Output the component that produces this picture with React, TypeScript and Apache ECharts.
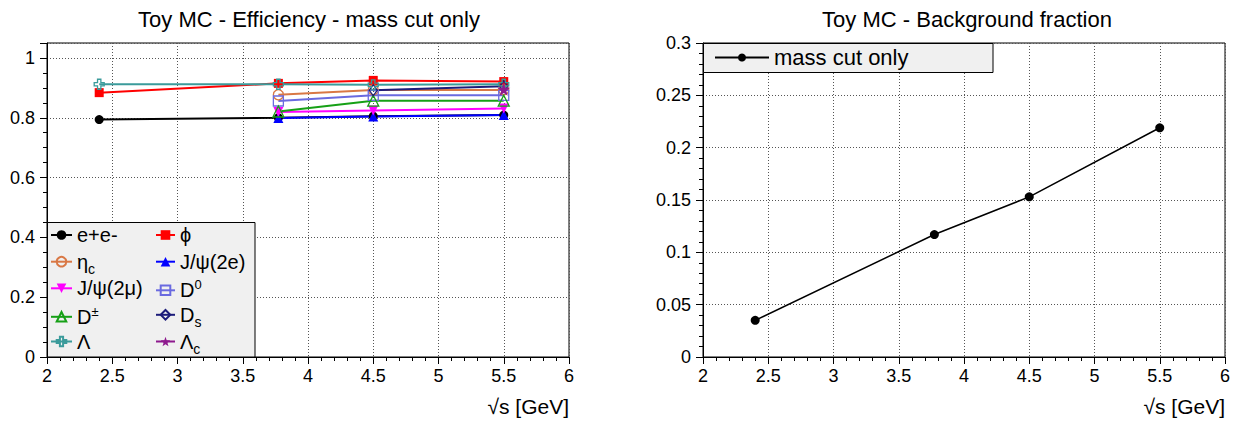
import React, { useEffect, useRef } from "react";
import * as echarts from "echarts";

// ---- data ----
const energies = [2.4, 3.773, 4.5, 5.5];
const xTicks = [2, 2.5, 3, 3.5, 4, 4.5, 5, 5.5, 6];
const effEE = [0.794, 0.8, 0.805, 0.809];
const effPhi = [0.884, 0.915, 0.925, 0.921];
const effEtac = [null, 0.877, 0.893, 0.893];
const effJpsiEE = [null, 0.799, 0.804, 0.809];
const effJpsiMuMu = [null, 0.819, 0.824, 0.831];
const effD0 = [null, 0.856, 0.875, 0.875];
const effDpm = [null, 0.821, 0.857, 0.857];
const effDs = [null, null, 0.892, 0.905];
const effLambda = [0.912, 0.912, 0.91, 0.912];
const effLambdac = [null, null, null, 0.895];
const bgFraction = [0.035, 0.117, 0.153, 0.219];

const titleLeft = "Toy MC - Efficiency - mass cut only";
const titleRight = "Toy MC - Background fraction";
const xTitle = "√s [GeV]";
const bgLegend = "mass cut only";

const FONT = "'Liberation Sans', Arial, Helvetica, sans-serif";
const TICK_FS = 18;

const CROSS =
  "path://M-1,-3 L1,-3 L1,-1 L3,-1 L3,1 L1,1 L1,3 L-1,3 L-1,1 L-3,1 L-3,-1 L-1,-1 Z";
const STAR =
  "path://M0,-10 L2.35,-3.24 L9.51,-3.09 L3.8,1.24 L5.88,8.09 L0,4 L-5.88,8.09 L-3.8,1.24 L-9.51,-3.09 L-2.35,-3.24 Z";

type Spec = {
  name: string;
  label: string;
  values: (number | null)[];
  color: string;
  symbol: string;
  size: number | number[];
  open?: boolean;
  rotate?: number;
};

const effSeries: Spec[] = [
  { name: "e+e-", label: "e+e-", values: effEE, color: "#000000", symbol: "circle", size: 9 },
  { name: "ϕ", label: "ϕ", values: effPhi, color: "#ff0000", symbol: "rect", size: 9 },
  { name: "η_c", label: "η{sub|c}", values: effEtac, color: "#d97845", symbol: "circle", size: 10, open: true },
  { name: "J/ψ(2e)", label: "J/ψ(2e)", values: effJpsiEE, color: "#0000ff", symbol: "triangle", size: 10 },
  { name: "J/ψ(2μ)", label: "J/ψ(2μ)", values: effJpsiMuMu, color: "#ff00ff", symbol: "triangle", size: 10, rotate: 180 },
  { name: "D0", label: "D{sup|0}", values: effD0, color: "#6a6ae0", symbol: "rect", size: 10, open: true },
  { name: "D±", label: "D{sup|±}", values: effDpm, color: "#16a016", symbol: "triangle", size: 11, open: true },
  { name: "Ds", label: "D{sub|s}", values: effDs, color: "#1c1c7a", symbol: "diamond", size: [8, 11], open: true },
  { name: "Λ", label: "Λ", values: effLambda, color: "#3b9b9b", symbol: CROSS, size: 10, open: true },
  { name: "Λc", label: "Λ{sub|c}", values: effLambdac, color: "#8e1a8e", symbol: STAR, size: 13 },
];

const labelMap: Record<string, string> = {};
effSeries.forEach((s) => (labelMap[s.name] = s.label));

function pairs(vals: (number | null)[]) {
  const out: number[][] = [];
  vals.forEach((v, i) => {
    if (v !== null) out.push([energies[i], v]);
  });
  return out;
}

const gridLine = { show: true, lineStyle: { color: "#555", type: [1, 2], width: 1 } };

function xAxis(gridIndex: number) {
  return {
    type: "value",
    gridIndex,
    min: xTicks[0],
    max: xTicks[xTicks.length - 1],
    interval: xTicks[1] - xTicks[0],
    axisLine: { show: true, onZero: false, lineStyle: { color: "#000" } },
    axisTick: { show: true, length: 7, lineStyle: { color: "#000" } },
    minorTick: { show: true, splitNumber: 5, length: 4, lineStyle: { color: "#000" } },
    splitLine: gridLine,
    axisLabel: { color: "#000", fontSize: TICK_FS, margin: 10, fontFamily: FONT },
    name: xTitle,
    nameLocation: "end",
    nameGap: 0,
    nameTextStyle: {
      color: "#000",
      fontSize: 21,
      fontFamily: FONT,
      align: "right",
      verticalAlign: "top",
      padding: [39, 0, 0, 0],
    },
  };
}

function yAxis(gridIndex: number, max: number, interval: number, minor: number) {
  return {
    type: "value",
    gridIndex,
    min: 0,
    max,
    interval,
    axisLine: { show: true, lineStyle: { color: "#000" } },
    axisTick: { show: true, length: 7, lineStyle: { color: "#000" } },
    minorTick: { show: true, splitNumber: minor, length: 4, lineStyle: { color: "#000" } },
    splitLine: gridLine,
    axisLabel: { color: "#000", fontSize: TICK_FS, margin: 12, showMaxLabel: gridIndex === 1, fontFamily: FONT },
  };
}

export default function App() {
  const ref = useRef<HTMLDivElement>(null);

  useEffect(() => {
    if (!ref.current) return;
    const chart = echarts.init(ref.current, undefined, { renderer: "svg" });

    const series: any[] = effSeries.map((s) => ({
      type: "line",
      name: s.name,
      xAxisIndex: 0,
      yAxisIndex: 0,
      data: pairs(s.values),
      symbol: s.symbol,
      symbolSize: s.size,
      symbolRotate: s.rotate || 0,
      showAllSymbol: true,
      lineStyle: { color: s.color, width: 2 },
      itemStyle: s.open
        ? { color: "rgba(255,255,255,0)", borderColor: s.color, borderWidth: 1.3 }
        : { color: s.color, borderWidth: 0 },
      emphasis: { disabled: true },
    }));
    series.push({
      type: "line",
      name: bgLegend,
      xAxisIndex: 1,
      yAxisIndex: 1,
      data: pairs(bgFraction),
      symbol: "circle",
      symbolSize: 9,
      lineStyle: { color: "#000", width: 1.5 },
      itemStyle: { color: "#000" },
      emphasis: { disabled: true },
    });

    const legendText = {
      color: "#000",
      fontSize: 20,
      lineHeight: 20,
      fontFamily: FONT,
      rich: {
        sub: { fontSize: 14, lineHeight: 20, height: 6, padding: [14, 0, 0, 0], fontFamily: FONT, color: "#000" },
        sup: { fontSize: 13, lineHeight: 20, height: 9, padding: [0, 0, 11, 0], fontFamily: FONT, color: "#000" },
      },
    };

    // one legend per entry, two columns x five rows (ROOT TLegend with 2 columns)
    const rowCenters = [235, 261.7, 288.3, 314.8, 341.5];
    const effLegends = effSeries.map((s, i) => {
      const col = i % 2;
      const row = Math.floor(i / 2);
      return {
        data: [s.name],
        orient: "vertical",
        left: col === 0 ? 50 : 155,
        top: rowCenters[row] - 10,
        padding: 0,
        itemWidth: col === 0 ? 21 : 19,
        itemHeight: 12,
        selectedMode: false,
        formatter: (n: string) => labelMap[n] || n,
        textStyle: legendText,
        z: 10,
      };
    });

    chart.setOption({
      animation: false,
      textStyle: { fontFamily: FONT },
      title: [
        {
          text: titleLeft,
          left: 304,
          textAlign: "center",
          top: 3,
          textStyle: { fontSize: 22, fontWeight: "normal", color: "#000", fontFamily: FONT },
        },
        {
          text: titleRight,
          left: 962,
          textAlign: "center",
          top: 3,
          textStyle: { fontSize: 22, fontWeight: "normal", color: "#000", fontFamily: FONT },
        },
      ],
      grid: [
        { left: 47, top: 43, width: 522, height: 314, show: true, borderColor: "#000", borderWidth: 1, backgroundColor: "#fff" },
        { left: 703, top: 43, width: 522, height: 314, show: true, borderColor: "#000", borderWidth: 1, backgroundColor: "#fff" },
      ],
      xAxis: [xAxis(0), xAxis(1)],
      yAxis: [yAxis(0, 1.05, 0.2, 4), yAxis(1, 0.3, 0.05, 5)],
      legend: [
        ...effLegends,
        {
          data: [bgLegend],
          left: 714,
          top: 45.5,
          padding: 0,
          itemWidth: 54,
          itemHeight: 10,
          selectedMode: false,
          textStyle: { color: "#000", fontSize: 22, lineHeight: 24, fontFamily: FONT },
          z: 10,
        },
      ],
      graphic: [
        {
          type: "rect",
          z: 5,
          shape: { x: 47.5, y: 222.5, width: 207.5, height: 134.5 },
          style: { fill: "#f0f0f0", stroke: "#000", lineWidth: 1 },
        },
        {
          type: "rect",
          z: 5,
          shape: { x: 703.5, y: 43.5, width: 289.5, height: 29 },
          style: { fill: "#f0f0f0", stroke: "#000", lineWidth: 1 },
        },
      ],
      series,
    });

    return () => chart.dispose();
  }, []);

  return (
    <div
      ref={ref}
      style={{ position: "fixed", left: 0, top: 0, width: 1242, height: 425, background: "#fff" }}
    />
  );
}
